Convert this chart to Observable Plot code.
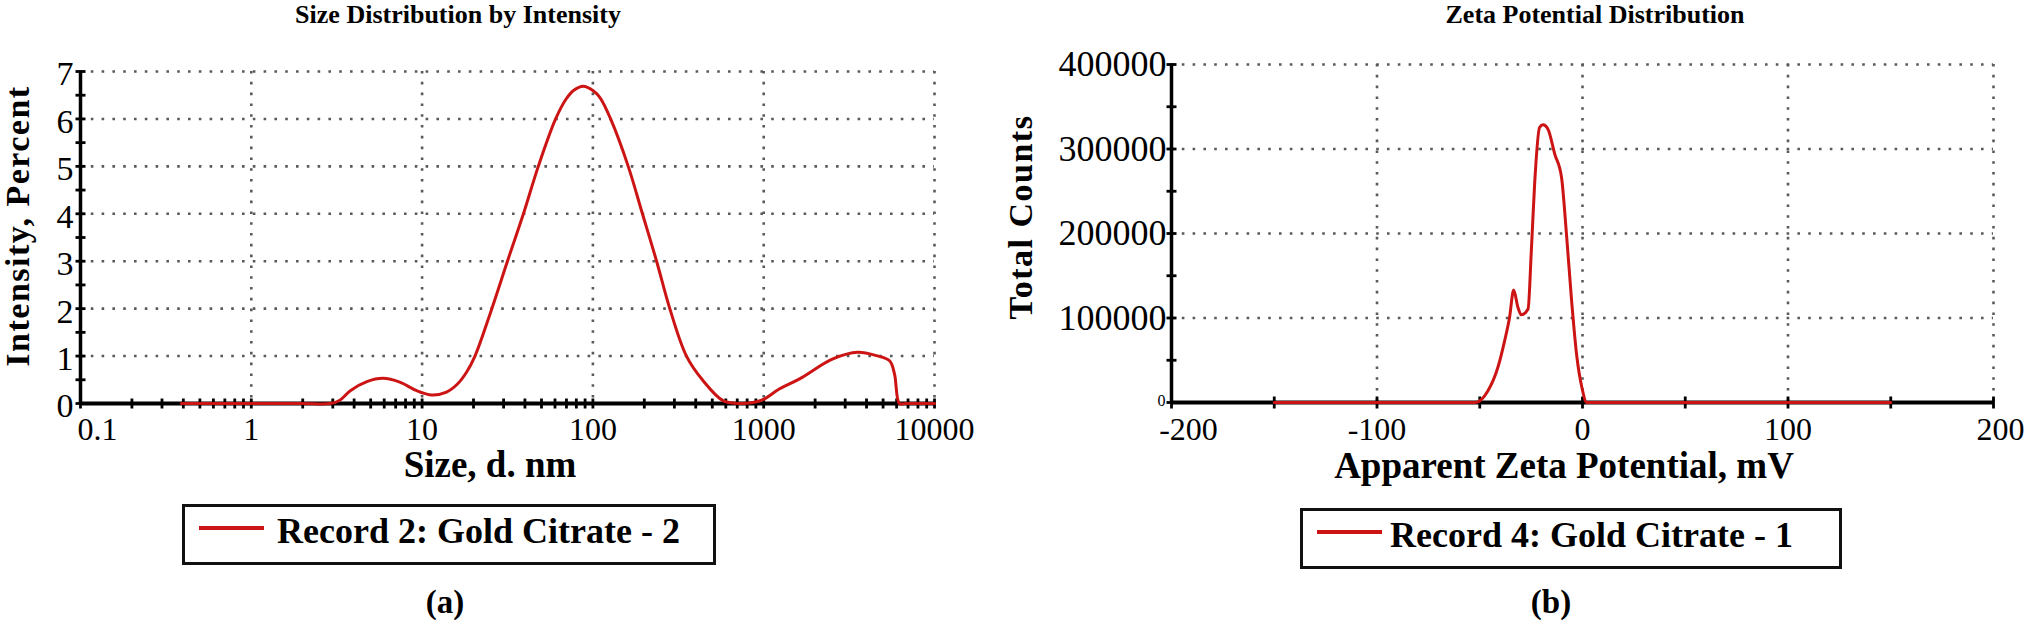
<!DOCTYPE html>
<html>
<head>
<meta charset="utf-8">
<script src="https://cdn.jsdelivr.net/npm/d3@7"></script>
<script src="https://cdn.jsdelivr.net/npm/@observablehq/plot@0.6"></script>
<style>
  html, body { margin: 0; padding: 0; background: #fff; }
  #root { position: relative; width: 2030px; height: 621px; overflow: hidden; background: #fff;
          font-family: "Liberation Serif", "Times New Roman", serif; color: #000; }
  .abs { position: absolute; white-space: nowrap; line-height: 1; }
  .box { position: absolute; border: 3px solid #111; box-sizing: border-box; background: #fff; }
</style>
</head>
<body>
<div id="root"></div>
<script>
// ---------- data (a): size distribution by intensity ----------
const sizeNm       = [0.39, 1, 2, 2.9, 3.3, 3.8, 4.75, 5.9, 7.4, 9.3, 11.4, 13.9, 16, 18.2, 20.4, 25.6, 31.6, 39.2, 47.9, 60.5, 69.7, 77, 87.8, 100, 110, 127, 161, 195, 236, 282, 353, 442, 578, 724, 865, 991, 1240, 1622, 2541, 3556, 4556, 5457, 5834, 6237, 6800, 10000];
const intensityPct = [0,    0, 0, 0,   0.07, 0.27, 0.46, 0.53, 0.45, 0.27, 0.18, 0.24, 0.4, 0.66, 1, 2, 3, 4, 5, 6, 6.42, 6.6, 6.69, 6.6, 6.45, 6, 5, 4, 3, 2, 1, 0.48, 0.06, 0, 0.02, 0.08, 0.31, 0.52, 0.94, 1.08, 1.01, 0.9, 0.62, 0, 0, 0];
const sizeTicks      = [0.1, 1, 10, 100, 1000, 10000];
const sizeTickLabels = ["0.1", "1", "10", "100", "1000", "10000"];
const intensityTicks = [0, 1, 2, 3, 4, 5, 6, 7];
const intensityTickLabels = ["0", "1", "2", "3", "4", "5", "6", "7"];

// ---------- data (b): zeta potential distribution ----------
const zetaMv      = [-150, -52, -46, -41.2, -37.9, -35.5, -33.5, -31.4, -29.8, -26.5, -24.9, -23.3, -20.9, -19.2, -16.8, -13.5, -10.2, -7.8, -5.3, -2.8, -0.3, 2.1, 150];
const totalCounts = [0, 0, 13800, 41400, 73000, 100600, 133000, 112400, 103800, 110500, 179500, 258500, 325400, 328600, 323500, 294000, 266300, 199300, 120400, 55300, 17750, 0, 0];
const zetaTicks      = [-200, -100, 0, 100, 200];
const zetaTickLabels = ["-200", "-100", "0", "100", "200"];
const countTicks      = [0, 100000, 200000, 300000, 400000];
const countTickLabels = ["0", "100000", "200000", "300000", "400000"];

// ---------- text ----------
const titleA = "Size Distribution by Intensity";
const titleB = "Zeta Potential Distribution";
const xLabelA = "Size, d. nm";
const yLabelA = "Intensity, Percent";
const xLabelB = "Apparent Zeta Potential, mV";
const yLabelB = "Total Counts";
const legendA = "Record 2: Gold Citrate - 2";
const legendB = "Record 4: Gold Citrate - 1";
const captionA = "(a)";
const captionB = "(b)";

// ---------- styling ----------
const RED = "#cc1414";
const GRID = "#5a5a5a";
const FONT = "Liberation Serif";
const gridOpts = {stroke: GRID, strokeOpacity: 1, strokeWidth: 2.6, strokeDasharray: "2.6 8.2"};
const vTick = {draw(ctx, size) { const r = Math.sqrt(size / Math.PI); ctx.moveTo(0, -r); ctx.lineTo(0, r); }};
const hTick = {draw(ctx, size) { const r = Math.sqrt(size / Math.PI); ctx.moveTo(-r, 0); ctx.lineTo(r, 0); }};
const txt = {fill: "#000", fontFamily: FONT};

const root = document.getElementById("root");

// ---------- chart (a) ----------
const minorSize = d3.scaleLog().domain([0.1, 10000]).ticks();
const halfSteps = d3.range(0, 7.001, 0.5);
const rowsA = sizeNm.map((s, i) => ({s, v: intensityPct[i]}));
const idxA = sizeTicks.map((d, i) => i);

const chartA = Plot.plot({
  width: 1000, height: 480,
  marginLeft: 80, marginRight: 66, marginTop: 71, marginBottom: 77,
  x: {type: "log", domain: [0.1, 10000], axis: null},
  y: {domain: [0, 7], axis: null},
  style: {background: "transparent", overflow: "visible", color: "#000"},
  marks: [
    Plot.gridY(intensityTicks.slice(1), gridOpts),
    Plot.gridX(sizeTicks.slice(1), gridOpts),
    Plot.ruleY([0], {stroke: "#000", strokeWidth: 4}),
    Plot.ruleX([0.1], {stroke: "#000", strokeWidth: 3.5}),
    Plot.dot(minorSize, {x: d => d, y: 0, symbol: vTick, r: 5, stroke: "#000", strokeWidth: 2.8}),
    Plot.dot(halfSteps, {x: 0.1, y: d => d, symbol: hTick, r: 5, stroke: "#000", strokeWidth: 2.8}),
    Plot.line(rowsA, {x: "s", y: "v", stroke: RED, strokeWidth: 3, curve: "catmull-rom"}),
    Plot.text(idxA.slice(1), {...txt, x: i => sizeTicks[i], y: 0, text: i => sizeTickLabels[i], dy: 26.5, fontSize: 32}),
    Plot.text(idxA.slice(0, 1), {...txt, x: i => sizeTicks[i], y: 0, text: i => sizeTickLabels[i], dy: 26.5, dx: 17, fontSize: 32}),
    Plot.text(intensityTicks, {...txt, x: 0.1, y: d => d, text: (d, i) => intensityTickLabels[i], textAnchor: "end", dx: -7, dy: 3, fontSize: 34})
  ]
});
chartA.style.position = "absolute";
chartA.style.left = "0px";
chartA.style.top = "0px";
root.appendChild(chartA);

// ---------- chart (b) ----------
const fiftySteps = d3.range(-200, 200.001, 50);
const halfCounts = d3.range(0, 400001, 50000);
const rowsB = zetaMv.map((z, i) => ({z, c: totalCounts[i]}));

const chartB = Plot.plot({
  width: 1030, height: 480,
  marginLeft: 171, marginRight: 37, marginTop: 64, marginBottom: 78,
  x: {domain: [-200, 200], axis: null},
  y: {domain: [0, 400000], axis: null},
  style: {background: "transparent", overflow: "visible", color: "#000"},
  marks: [
    Plot.gridY(countTicks.slice(1), gridOpts),
    Plot.gridX(zetaTicks.slice(1), gridOpts),
    Plot.ruleY([0], {stroke: "#000", strokeWidth: 4}),
    Plot.ruleX([-200], {stroke: "#000", strokeWidth: 3.5}),
    Plot.dot(fiftySteps, {x: d => d, y: 0, symbol: vTick, r: 6, stroke: "#000", strokeWidth: 2.8}),
    Plot.dot(halfCounts, {x: -200, y: d => d, symbol: hTick, r: 5, stroke: "#000", strokeWidth: 2.8}),
    Plot.line(rowsB, {x: "z", y: "c", stroke: RED, strokeWidth: 3, curve: "monotone-x"}),
    Plot.text([1, 2, 3], {...txt, x: i => zetaTicks[i], y: 0, text: i => zetaTickLabels[i], dy: 27.5, fontSize: 32}),
    Plot.text([0], {...txt, x: i => zetaTicks[i], y: 0, text: i => zetaTickLabels[i], dy: 27.5, dx: 17, fontSize: 32}),
    Plot.text([4], {...txt, x: i => zetaTicks[i], y: 0, text: i => zetaTickLabels[i], dy: 27.5, dx: 7, fontSize: 32}),
    Plot.text([1, 2, 3, 4], {...txt, x: -200, y: i => countTicks[i], text: i => countTickLabels[i], textAnchor: "end", dx: -5, fontSize: 36}),
    Plot.text([0], {...txt, x: -200, y: i => countTicks[i], text: i => countTickLabels[i], textAnchor: "end", dx: -6, dy: -2, fontSize: 16})
  ]
});
chartB.style.position = "absolute";
chartB.style.left = "1000px";
chartB.style.top = "0px";
root.appendChild(chartB);

// ---------- HTML text helpers ----------
function addText(str, {x, baseline, size, bold = false, anchor = "middle", spacing = 0, lh = 1}) {
  const d = document.createElement("div");
  d.className = "abs";
  d.textContent = str;
  d.style.fontSize = size + "px";
  d.style.lineHeight = lh;
  d.style.fontWeight = bold ? "bold" : "normal";
  d.style.letterSpacing = spacing + "px";
  d.style.left = x + "px";
  d.style.top = (baseline - ((lh - 1.107) / 2 + 0.891) * size) + "px";
  if (anchor === "middle") d.style.transform = "translateX(-50%)";
  root.appendChild(d);
  return d;
}
function addVText(str, {cx, cy, size, spacing = 0}) {
  const d = document.createElement("div");
  d.className = "abs";
  d.textContent = str;
  d.style.fontSize = size + "px";
  d.style.fontWeight = "bold";
  d.style.letterSpacing = spacing + "px";
  d.style.left = cx + "px";
  d.style.top = cy + "px";
  d.style.transform = "translate(-50%, -50%) rotate(-90deg)";
  root.appendChild(d);
}
function addLegend(label, {left, top, width, height, lineX, lineY, textX, textBaseline}) {
  const b = document.createElement("div");
  b.className = "box";
  Object.assign(b.style, {left: left + "px", top: top + "px", width: width + "px", height: height + "px"});
  root.appendChild(b);
  const sw = document.createElement("div");
  sw.className = "abs";
  Object.assign(sw.style, {left: lineX + "px", top: (lineY - 2) + "px", width: "65px", height: "4px", background: RED});
  root.appendChild(sw);
  addText(label, {x: textX, baseline: textBaseline, size: 36, bold: true, anchor: "start"});
}

// titles
addText(titleA, {x: 458, baseline: 24, size: 26, bold: true});
addText(titleB, {x: 1595, baseline: 24, size: 26, bold: true});
// axis titles
addText(xLabelA, {x: 490, baseline: 477, size: 37, bold: true, lh: 0.8});
addText(xLabelB, {x: 1564, baseline: 478, size: 37, bold: true, lh: 0.8});
addVText(yLabelA, {cx: 18, cy: 226, size: 34, spacing: 1.5});
addVText(yLabelB, {cx: 1021, cy: 217, size: 34, spacing: 1.5});
// legends
addLegend(legendA, {left: 182, top: 504, width: 534, height: 61, lineX: 199, lineY: 528, textX: 277, textBaseline: 543});
addLegend(legendB, {left: 1300, top: 508, width: 542, height: 61, lineX: 1317, lineY: 532, textX: 1390, textBaseline: 547});
// captions
addText(captionA, {x: 445, baseline: 614, size: 33, bold: true});
addText(captionB, {x: 1551, baseline: 614, size: 33, bold: true});
</script>
</body>
</html>
